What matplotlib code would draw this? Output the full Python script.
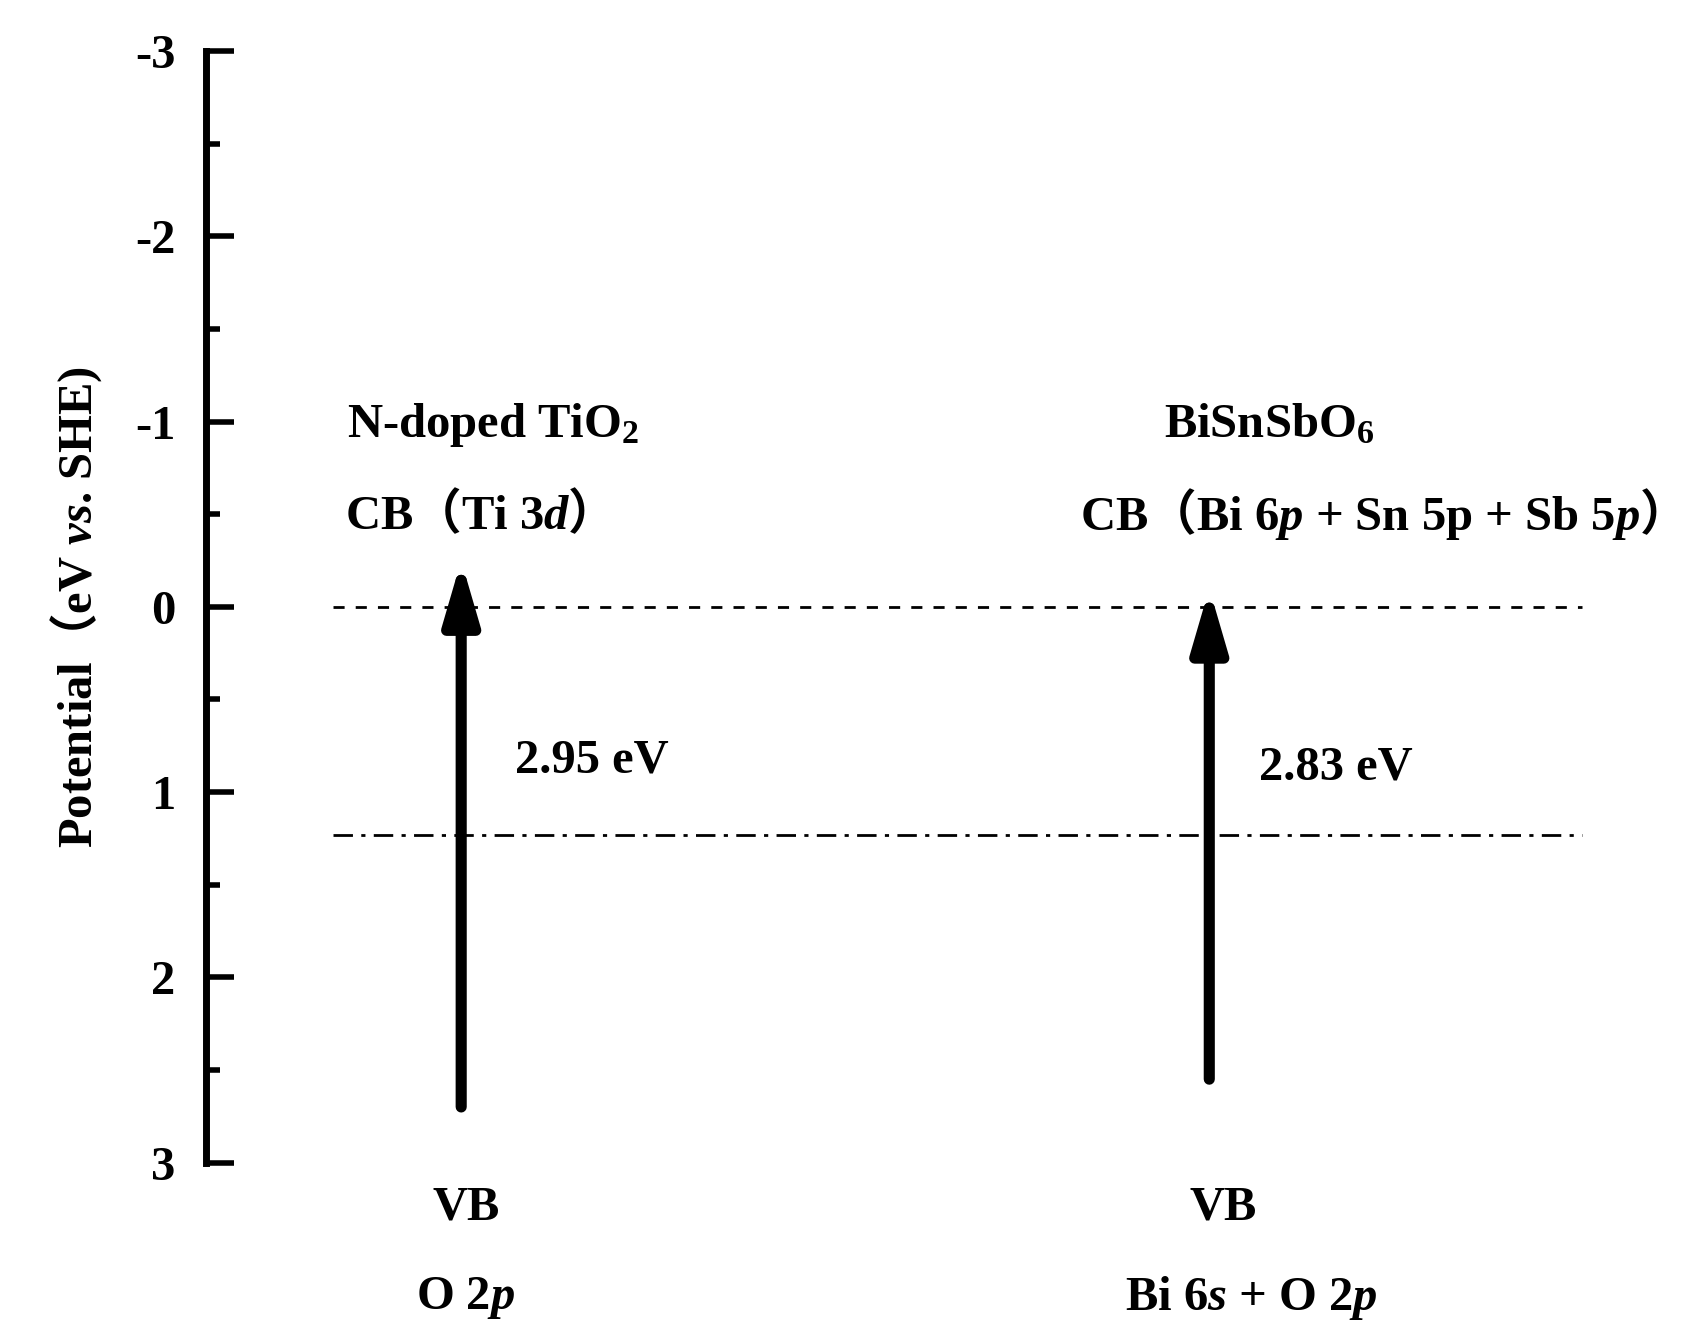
import matplotlib
matplotlib.use("Agg")
import matplotlib.pyplot as plt
from matplotlib.ticker import MultipleLocator, FixedLocator

plt.rcParams['font.family'] = ['Liberation Serif', 'Noto Sans CJK SC']
plt.rcParams['font.weight'] = 'bold'
plt.rcParams['mathtext.fontset'] = 'custom'
plt.rcParams['mathtext.rm'] = 'Liberation Serif:bold'
plt.rcParams['mathtext.it'] = 'Liberation Serif:italic:bold'
plt.rcParams['mathtext.sf'] = 'Noto Sans CJK SC:bold'

L = "$\\mathsf{（}$"
R = "$\\mathsf{）}$"
yticks = [-3, -2, -1, 0, 1, 2, 3]
ytick_labels = ["-3", "-2", "-1", "0", "1", "2", "3"]
materials = ["N-doped TiO$_2$", "BiSnSbO$_6$"]
cb_labels = ["CB" + L + "Ti 3$\\mathit{d}$" + R,
             "CB" + L + "Bi 6$\\mathit{p}$ + Sn 5p + Sb 5$\\mathit{p}$" + R]
vb_orbitals = ["O 2$\\mathit{p}$", "Bi 6$\\mathit{s}$ + O 2$\\mathit{p}$"]
gaps = ["2.95 eV", "2.83 eV"]
vb = [2.70, 2.55]
cb = [-0.25, -0.10]
h_level = 0.0
o2_level = 1.23

FS = 35
fig = plt.figure(figsize=(17.08, 13.44), dpi=100)
ax = fig.add_axes([0.1205, 0.135, 0.8795, 0.827])
ax.set_xlim(0, 1)
ax.set_ylim(3, -3)
for s in ['top', 'right', 'bottom']:
    ax.spines[s].set_visible(False)
ax.spines['left'].set_linewidth(5)
ax.set_xticks([])
ax.yaxis.set_major_locator(FixedLocator(yticks))
ax.set_yticklabels(ytick_labels)
ax.yaxis.set_minor_locator(MultipleLocator(0.5))
ax.tick_params(axis='y', which='major', direction='in', length=20, width=4, labelsize=FS, pad=22)
ax.tick_params(axis='y', which='minor', direction='in', length=10, width=4)
ax.set_ylabel("Potential" + L + "eV $\\mathit{vs}$. SHE)", fontsize=FS, fontweight='bold', labelpad=22)

ax.plot([0.085, 0.916], [h_level, h_level], ls=(0, (4, 4)), color='black', lw=2)
ax.plot([0.085, 0.916], [o2_level, o2_level], ls=(0, (7, 3, 1.5, 3)), color='black', lw=2)

xs = [0.170, 0.668]
name_x = [0.191, 0.708]
cb_x = [0.173, 0.774]
gap_x = [0.257, 0.752]
gap_y = [0.83, 0.87]
vb_x = [0.173, 0.677]
orb_x = [0.173, 0.696]
for i in range(2):
    ax.annotate("", xy=(xs[i], cb[i]), xytext=(xs[i], vb[i]),
                arrowprops=dict(arrowstyle='-|>,head_width=0.35,head_length=1.2', lw=8,
                                color='black', mutation_scale=30, shrinkA=0, shrinkB=0))
    ax.text(name_x[i], -0.98, materials[i], ha='center', va='center', fontsize=FS, fontweight='bold')
    ax.text(cb_x[i], -0.5, cb_labels[i], ha='center', va='center', fontsize=FS, fontweight='bold')
    ax.text(gap_x[i], gap_y[i], gaps[i], ha='center', va='center', fontsize=FS, fontweight='bold')
    ax.text(vb_x[i], 3.24, "VB", ha='center', va='center', fontsize=FS, fontweight='bold', clip_on=False)
    ax.text(orb_x[i], 3.73, vb_orbitals[i], ha='center', va='center', fontsize=FS, fontweight='bold', clip_on=False)

fig.savefig("out.png", dpi=100)
